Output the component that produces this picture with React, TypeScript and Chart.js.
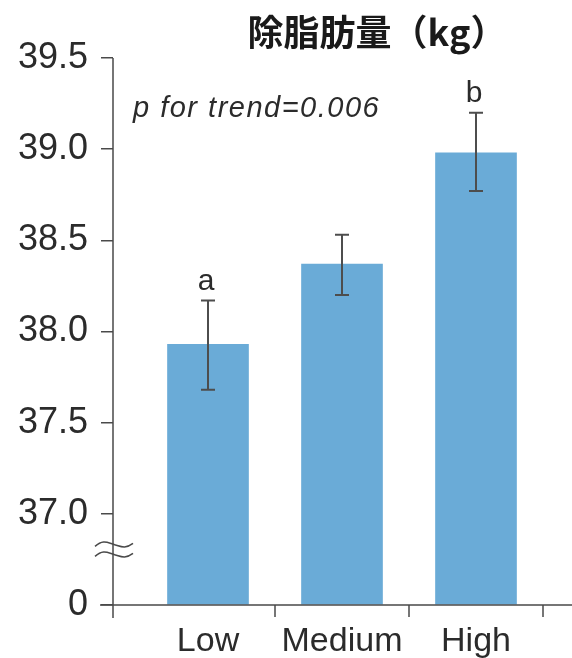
import React, { useEffect, useRef } from "react";
import { Chart, registerables } from "chart.js";

Chart.register(...registerables);

const categories = ["Low", "Medium", "High"];
const means = [37.93, 38.37, 38.98];
const errLower = [37.68, 38.2, 38.77];
const errUpper = [38.17, 38.53, 39.2];
const sigLetters = ["a", "", "b"];
const yTickValues = [36.5, 37.0, 37.5, 38.0, 38.5, 39.0, 39.5];
const titleText = "除脂肪量（kg）";
const trendText = "p for trend=0.006";

const AXIS = "#4a4a4a";
const TEXT = "#2b2b2b";
const FONT = "'Liberation Sans', Arial, Helvetica, sans-serif";

const overlay = {
  id: "overlay",
  afterDatasetsDraw(chart: any) {
    const ctx = chart.ctx;
    const xs = chart.scales.x;
    const ys = chart.scales.y;
    const area = chart.chartArea;
    ctx.save();
    // axes
    ctx.strokeStyle = AXIS;
    ctx.lineWidth = 1.5;
    ctx.beginPath();
    ctx.moveTo(area.left, area.top);
    ctx.lineTo(area.left, area.bottom + 13);
    ctx.moveTo(area.left - 13, area.bottom);
    ctx.lineTo(chart.width, area.bottom);
    ctx.stroke();
    // x boundary ticks
    ctx.beginPath();
    for (let i = 0; i < categories.length; i++) {
      const px = xs.getPixelForValue(i + 0.5);
      ctx.moveTo(px, area.bottom);
      ctx.lineTo(px, area.bottom + 12);
    }
    ctx.stroke();
    // axis break marks
    const y1 = (ys.getPixelForValue(37.0) + ys.getPixelForValue(36.5)) / 2 - 15;
    ctx.lineWidth = 1.5;
    [y1, y1 + 10].forEach((yy) => {
      ctx.beginPath();
      ctx.moveTo(area.left - 18, yy + 2);
      ctx.bezierCurveTo(area.left - 10, yy - 5, area.left - 6, yy - 2, area.left + 1, yy);
      ctx.bezierCurveTo(area.left + 8, yy + 2, area.left + 12, yy + 5, area.left + 20, yy - 1);
      ctx.stroke();
    });
    // error bars
    ctx.strokeStyle = "#4d4d4d";
    ctx.lineWidth = 2;
    for (let i = 0; i < means.length; i++) {
      const px = xs.getPixelForValue(i);
      const yt = ys.getPixelForValue(errUpper[i]);
      const yb = ys.getPixelForValue(errLower[i]);
      ctx.beginPath();
      ctx.moveTo(px, yt);
      ctx.lineTo(px, yb);
      ctx.moveTo(px - 7, yt);
      ctx.lineTo(px + 7, yt);
      ctx.moveTo(px - 7, yb);
      ctx.lineTo(px + 7, yb);
      ctx.stroke();
      if (sigLetters[i]) {
        ctx.fillStyle = TEXT;
        ctx.font = `30px ${FONT}`;
        ctx.textAlign = "center";
        ctx.textBaseline = "alphabetic";
        ctx.fillText(sigLetters[i], px - 2, yt - 11);
      }
    }
    // title
    ctx.fillStyle = "#1a1a1a";
    ctx.font = `bold 36px 'Noto Sans CJK JP', sans-serif`;
    ctx.textAlign = "center";
    ctx.textBaseline = "middle";
    ctx.fillText(titleText, 377, 32);
    // trend text
    ctx.fillStyle = TEXT;
    ctx.font = `italic 29px ${FONT}`;
    ctx.textAlign = "left";
    ctx.textBaseline = "alphabetic";
    (ctx as any).letterSpacing = "1.5px";
    ctx.fillText(trendText, 133, 117);
    ctx.restore();
  },
};

export default function App() {
  const ref = useRef<HTMLCanvasElement | null>(null);
  useEffect(() => {
    if (!ref.current) return;
    const chart = new Chart(ref.current, {
      type: "bar",
      data: {
        datasets: [
          {
            data: means.map((v, i) => ({ x: i, y: v })),
            backgroundColor: "#6aabd7",
            borderWidth: 0,
            barThickness: 81,
            base: 36.5,
          } as any,
        ],
      },
      options: {
        animation: false,
        responsive: false,
        devicePixelRatio: 1,
        layout: { padding: { top: 58, right: 29, left: 0, bottom: 0 } },
        plugins: { legend: { display: false }, tooltip: { enabled: false }, title: { display: false } },
        scales: {
          x: {
            type: "linear",
            offset: false,
            min: -0.709,
            max: 2.5,
            grid: { display: false, drawTicks: false, offset: false },
            border: { display: false },
            afterBuildTicks: (s: any) => {
              s.ticks = categories.map((_, i) => ({ value: i }));
            },
            afterFit: (s: any) => {
              s.height = 53;
              s.paddingLeft = 0;
              s.paddingRight = 0;
            },
            ticks: {
              padding: 16,
              color: TEXT,
              font: { size: 34, family: FONT },
              maxRotation: 0,
              autoSkip: false,
              callback: (v: any) => categories[v] ?? "",
            },
          },
          y: {
            type: "linear",
            min: 36.5,
            max: 39.5,
            afterBuildTicks: (s: any) => {
              s.ticks = yTickValues.map((v) => ({ value: v }));
            },
            afterFit: (s: any) => {
              s.width = 113;
              s.paddingTop = 0;
              s.paddingBottom = 0;
            },
            grid: {
              drawOnChartArea: false,
              drawTicks: true,
              tickLength: 12,
              color: AXIS,
              lineWidth: 1.5,
            },
            border: { display: false },
            ticks: {
              padding: 13,
              color: TEXT,
              font: { size: 36, family: FONT },
              callback: (v: any) => (v === 36.5 ? "0" : Number(v).toFixed(1)),
            },
          },
        },
      },
      plugins: [overlay],
    });
    return () => chart.destroy();
  }, []);
  return (
    <div style={{ position: "fixed", left: 0, top: 0, width: 572, height: 658, background: "#fff" }}>
      <canvas ref={ref} width={572} height={658} style={{ display: "block" }} />
    </div>
  );
}
